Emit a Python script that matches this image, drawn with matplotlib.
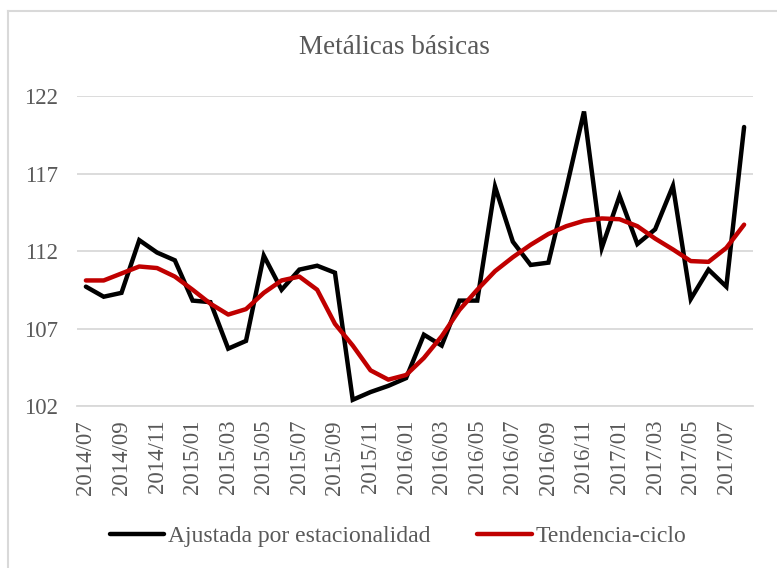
import matplotlib.pyplot as plt
from matplotlib.lines import Line2D

# monthly series, 2014/07 .. 2017/08
months = []
for y in (2014, 2015, 2016, 2017):
    for m in range(1, 13):
        if (y == 2014 and m < 7) or (y == 2017 and m > 8):
            continue
        months.append(f"{y}/{m:02d}")

ajustada = [109.7, 109.05, 109.3, 112.7, 111.9, 111.4, 108.8, 108.7, 105.7, 106.2,
            111.7, 109.5, 110.8, 111.05, 110.6, 102.4, 102.9, 103.3, 103.8, 106.6,
            105.9, 108.8, 108.8, 116.15, 112.6, 111.1, 111.25, 116.0, 121.0, 112.2,
            115.55, 112.45, 113.4, 116.2, 108.9, 110.8, 109.7, 120.0]
tendencia = [110.1, 110.1, 110.55, 111.0, 110.9, 110.35, 109.5, 108.6, 107.9, 108.25,
             109.3, 110.1, 110.35, 109.5, 107.3, 105.9, 104.3, 103.7, 104.0, 105.1,
             106.5, 108.2, 109.5, 110.7, 111.6, 112.4, 113.1, 113.6, 113.95, 114.1,
             114.05, 113.6, 112.8, 112.1, 111.35, 111.3, 112.2, 113.7]
yticks = [102, 107, 112, 117, 122]

plt.rcParams['font.family'] = ['Liberation Serif', 'DejaVu Serif']
gray = '#595959'
grid = '#d9d9d9'

fig = plt.figure(figsize=(7.77, 5.68), dpi=100)
ax = fig.add_axes([77 / 777, 1 - 406 / 568, 676 / 777, 310 / 568])

x = list(range(len(months)))
ax.plot(x, ajustada, color='black', lw=3.2, label='Ajustada por estacionalidad',
        solid_joinstyle='miter', solid_capstyle='round')
ax.plot(x, tendencia, color='#c00000', lw=3.2, label='Tendencia-ciclo',
        solid_capstyle='round')

ax.set_xlim(-0.5, len(months) - 0.5)
ax.set_ylim(102, 122)
ax.set_yticks(yticks)
ax.set_xticks(x[::2])
ax.set_xticklabels(months[::2], rotation=90)
ax.tick_params(axis='both', length=0, labelsize=16.5, colors=gray)
ax.tick_params(axis='y', pad=14)
ax.tick_params(axis='x', pad=10)
ax.grid(axis='y', color=grid, lw=1.3)
ax.set_axisbelow(True)
for s in ('top', 'left', 'right'):
    ax.spines[s].set_visible(False)
ax.spines['bottom'].set_color(grid)
ax.spines['bottom'].set_linewidth(1.3)

fig.text(0.508, 1 - 47 / 568, 'Metálicas básicas', ha='center', va='center',
         fontsize=19.5, color=gray)

leg = fig.legend(loc='center', bbox_to_anchor=(0.512, 1 - 536 / 568), ncol=2,
                 frameon=False, fontsize=17, handlelength=2.3, handletextpad=0.15,
                 columnspacing=2.0)
for t in leg.get_texts():
    t.set_color(gray)

# chart border
fig.add_artist(Line2D([8 / 777, 8 / 777], [0, 1 - 11 / 568], color=grid, lw=1.5))
fig.add_artist(Line2D([8 / 777, 1], [1 - 11 / 568, 1 - 11 / 568], color=grid, lw=1.5))

fig.savefig('out.png', dpi=100)
